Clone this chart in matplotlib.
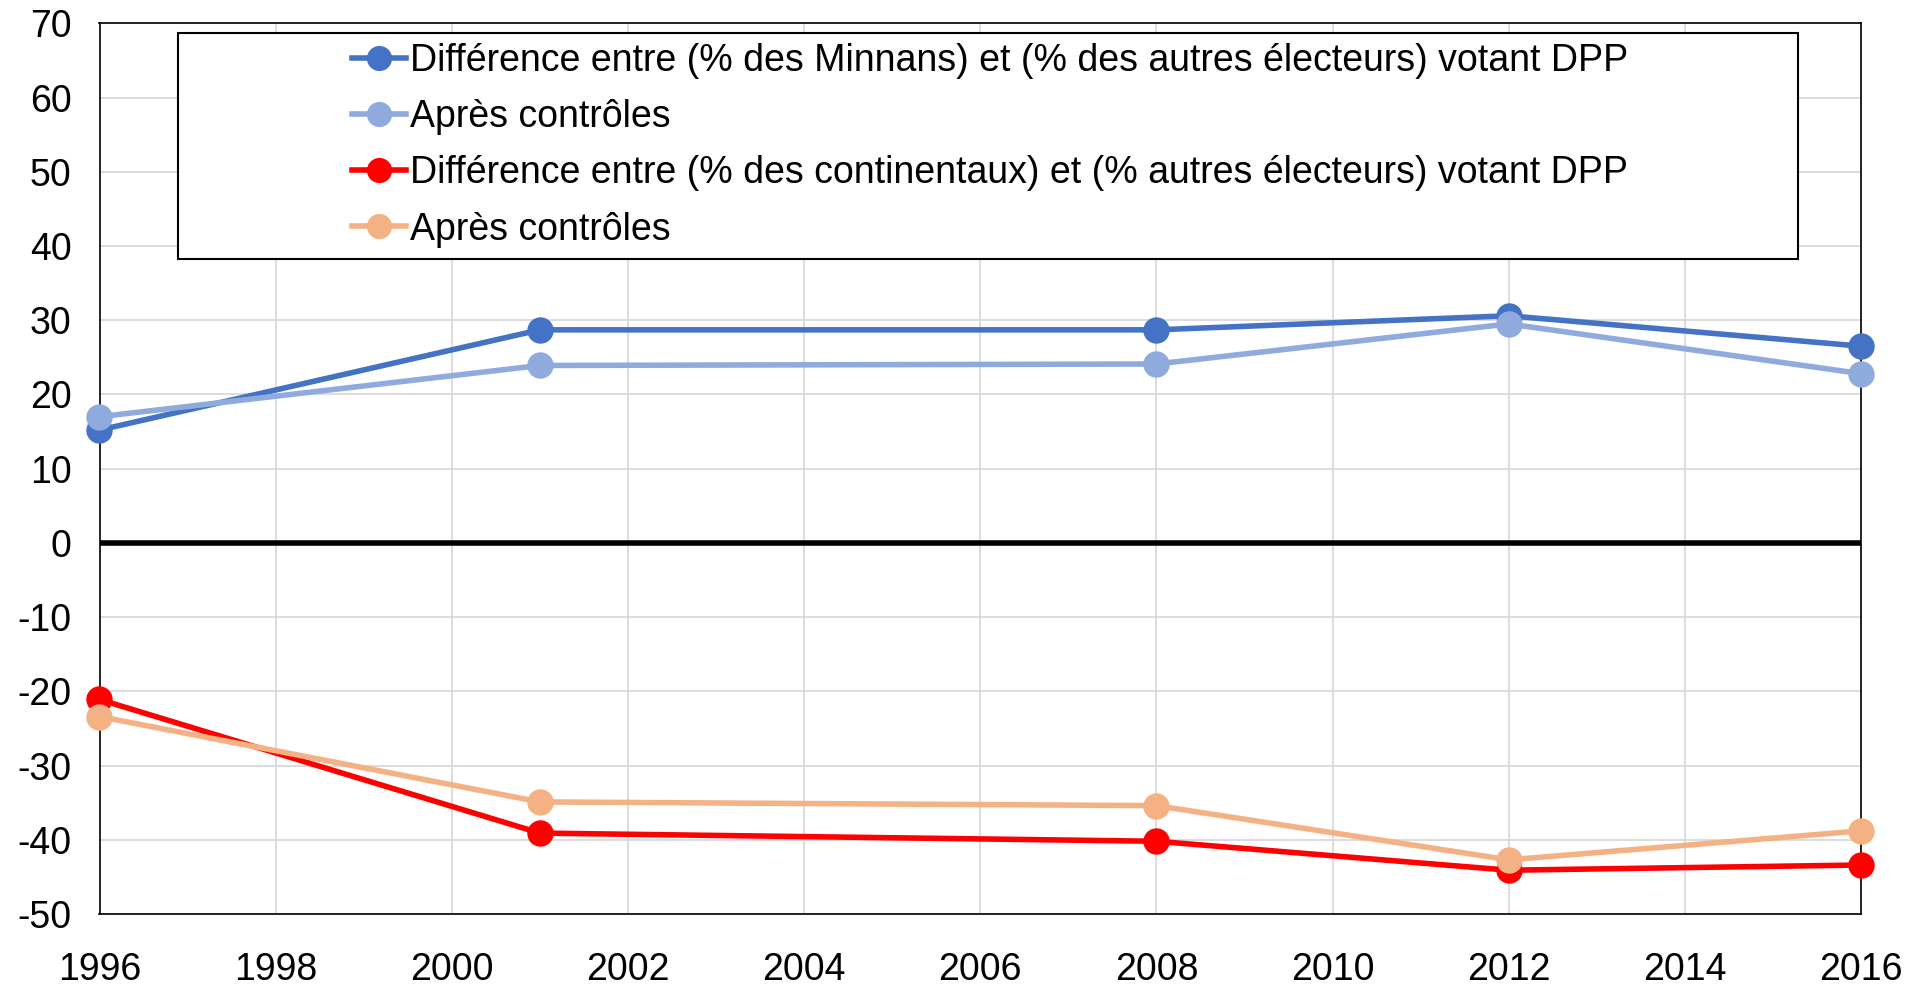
import matplotlib
matplotlib.use("Agg")
import matplotlib.pyplot as plt
from matplotlib.patches import Rectangle

plt.rcParams['font.family'] = ['Liberation Sans', 'DejaVu Sans']
plt.rcParams['axes.unicode_minus'] = False

years = [1996, 2001, 2008, 2012, 2016]
minnan = [15.2, 28.7, 28.7, 30.6, 26.5]
minnan_ctrl = [17.0, 23.9, 24.1, 29.5, 22.8]
cont = [-21.1, -39.1, -40.2, -44.1, -43.4]
cont_ctrl = [-23.4, -34.9, -35.4, -42.7, -38.8]

labels = [
    "Différence entre (% des Minnans) et (% des autres électeurs) votant DPP",
    "Après contrôles",
    "Différence entre (% des continentaux) et (% autres électeurs) votant DPP",
    "Après contrôles",
]
colors = ["#4472C4", "#8FAADC", "#FF0000", "#F4B183"]
xticks = list(range(1996, 2017, 2))
yticks = list(range(-50, 71, 10))

fig = plt.figure(figsize=(19.24, 9.88), dpi=100)
ax = fig.add_axes([99.5 / 1924, 1 - 914 / 988, (1861 - 99.5) / 1924, (914 - 23.3) / 988])

ax.set_xlim(1996, 2016)
ax.set_ylim(-50, 70)
ax.set_xticks(xticks)
ax.set_yticks(yticks)
ax.grid(True, color="#d9d9d9", linewidth=1.3, zorder=0)
ax.set_axisbelow(True)
ax.tick_params(axis='both', length=0, labelsize=27)
ax.tick_params(axis='x', pad=27)
ax.tick_params(axis='y', pad=20)
for s in ax.spines.values():
    s.set_color("black")
    s.set_linewidth(1.2)

ax.axhline(0, color="black", linewidth=4, zorder=2)

handles = []
for data, c, lab in zip([minnan, minnan_ctrl, cont, cont_ctrl], colors, labels):
    h, = ax.plot(years, data, color=c, linewidth=4, marker='o', markersize=18,
                 label=lab, zorder=3, clip_on=False)
    handles.append(h)

# legend box
box = Rectangle((178 / 1924, 1 - 259 / 988), (1798 - 178) / 1924, (259 - 33) / 988,
                transform=fig.transFigure, facecolor="white", edgecolor="black",
                linewidth=1.5, zorder=4)
fig.patches.append(box)

leg = fig.legend(handles=handles, labels=labels, loc="center",
                 bbox_to_anchor=(0.5147, 0.853), frameon=False, fontsize=27,
                 handlelength=1.45, handletextpad=0.1, labelspacing=0.54,
                 borderpad=0, markerscale=0.95)
leg.set_zorder(5)

fig.savefig("out.png", dpi=100)
